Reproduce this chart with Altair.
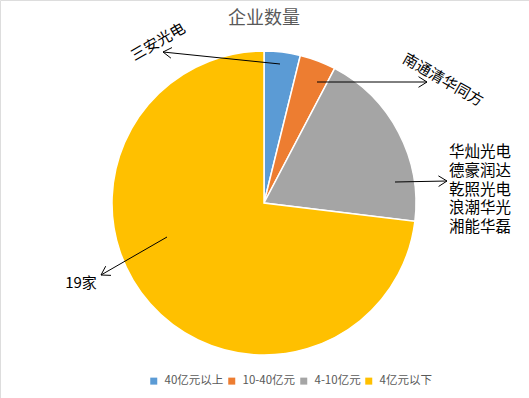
import altair as alt
import numpy as np
import pandas as pd

# Companies by annual revenue bracket
categories = ["40亿元以上", "10-40亿元", "4-10亿元", "4亿元以下"]
counts = [1, 1, 5, 19]
colors = ["#5B9BD5", "#ED7D31", "#A5A5A5", "#FFC000"]

# Callout labels
callout_single = ["三安光电", "南通清华同方", "19家"]
group_names = ["华灿光电", "德豪润达", "乾照光电", "浪潮华光", "湘能华磊"]

W, H = 529, 398
CX, CY, R = 264, 203, 152

pie_df = pd.DataFrame({"category": categories, "count": counts, "order": range(len(counts))})

pie = alt.Chart(pie_df).mark_arc(outerRadius=R, stroke="white", strokeWidth=1.5).encode(
    theta=alt.Theta("count:Q", stack=True),
    order=alt.Order("order:Q"),
    color=alt.Color(
        "category:N",
        scale=alt.Scale(domain=categories, range=colors),
        legend=alt.Legend(
            title=None,
            orient="none",
            direction="horizontal",
            legendX=148,
            legendY=375,
            padding=0,
            symbolType="square",
            symbolSize=49,
            symbolStrokeWidth=0,
            labelFontSize=11.5,
            labelColor="#595959",
            labelFont="Noto Sans CJK SC",
            columnPadding=2,
            labelOffset=5,
        ),
    ),
    x=alt.value(CX),
    y=alt.value(CY),
)

# Callout arrows: tail inside the slice, head next to the label
arrows = [
    ((280, 64), (163, 52)),
    ((317, 82), (427, 82)),
    ((395, 182), (447, 181)),
    ((167, 237), (101, 275)),
]
segs = []
for (x0, y0), (x1, y1) in arrows:
    segs.append({"x": x0, "y": y0, "x2": x1, "y2": y1})
    d = np.array([x0 - x1, y0 - y1], dtype=float)
    d /= np.linalg.norm(d)
    for a in (np.radians(32), -np.radians(32)):
        rot = np.array([[np.cos(a), -np.sin(a)], [np.sin(a), np.cos(a)]])
        w = rot @ d * 10
        segs.append({"x": x1, "y": y1, "x2": x1 + w[0], "y2": y1 + w[1]})
seg_df = pd.DataFrame(segs)

px = dict(scale=None, axis=None)
lines = alt.Chart(seg_df).mark_rule(color="black", strokeWidth=1).encode(
    x=alt.X("x:Q", **px), y=alt.Y("y:Q", **px),
    x2="x2:Q", y2="y2:Q",
)

label_df = pd.DataFrame({
    "text": callout_single,
    "x": [158, 443, 81],
    "y": [42, 80, 283],
    "angle": [330, 30, 0],
})
labels = alt.Chart(label_df).mark_text(
    font="Noto Sans CJK SC", fontSize=15, color="black", align="center", baseline="middle"
).encode(
    x=alt.X("x:Q", **px), y=alt.Y("y:Q", **px),
    text="text:N", angle=alt.Angle("angle:Q", scale=None),
)

group_df = pd.DataFrame({"text": group_names, "row": range(len(group_names))})
group = alt.Chart(group_df).transform_calculate(
    y="152 + datum.row * 18.8"
).mark_text(
    font="Noto Sans CJK SC", fontSize=15.5, color="black", align="left", baseline="middle"
).encode(
    x=alt.value(449), y=alt.Y("y:Q", **px), text="text:N",
)

title = alt.Chart(pd.DataFrame({"t": ["企业数量"]})).mark_text(
    font="Noto Sans CJK SC", fontSize=18, color="#595959", align="center", baseline="middle"
).encode(x=alt.value(CX), y=alt.value(19), text="t:N")

chart = alt.layer(pie, lines, labels, group, title).properties(
    width=W, height=H, padding=0, autosize=alt.AutoSizeParams(type="none")
).configure_view(stroke=None).configure(background="white")

chart.save("out.html", embed_options={"renderer": "svg", "actions": False})
